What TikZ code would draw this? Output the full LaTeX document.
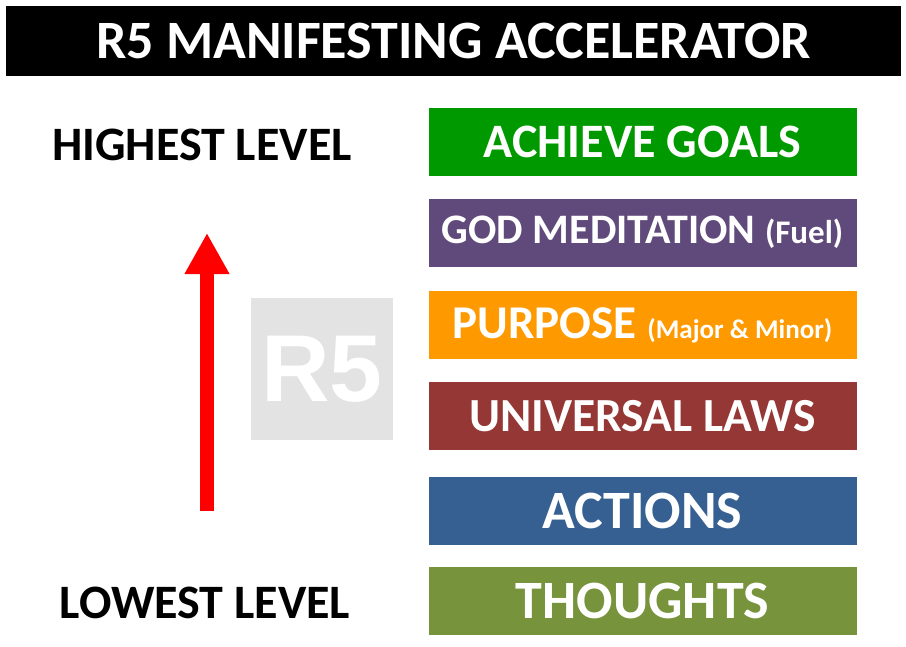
\documentclass[tikz,border=0pt]{standalone}
\usepackage{fontspec}
\setmainfont{Carlito}
\newfontfamily\logofont{Liberation Sans}
\usetikzlibrary{arrows.meta}

\definecolor{goalgreen}{HTML}{009A00}
\definecolor{godpurple}{HTML}{604A7B}
\definecolor{purposeorange}{HTML}{FF9900}
\definecolor{lawred}{HTML}{953735}
\definecolor{actionblue}{HTML}{376092}
\definecolor{thoughtolive}{HTML}{77933C}
\definecolor{logogray}{HTML}{E3E3E3}

\newcommand{\notefont}[1]{\fontsize{#1}{#1}\selectfont}

\begin{document}
\begin{tikzpicture}[x=1pt,y=-1pt]
% Level styles
\tikzset{
    levelbox/.style 2 args={fill=#1, text=white, minimum width=428pt, minimum height=68pt,
        inner sep=0pt, font=\bfseries\fontsize{#2}{#2}\selectfont},
    sidelabel/.style={text=black, inner sep=0pt, font=\bfseries\fontsize{48}{48}\selectfont}
}
\useasboundingbox (0,0) rectangle (906,646);

% Title
\node[fill=black, text=white, minimum width=895pt, minimum height=70pt, inner sep=0pt,
    font=\bfseries\fontsize{54}{54}\selectfont] (Title) at (453.5,41){R5 MANIFESTING ACCELERATOR};

% Level boxes
\node[levelbox={goalgreen}{48}] (Goals) at (642.5,142){ACHIEVE GOALS};
\node[levelbox={godpurple}{42}] (God) at (642.5,232.5){GOD MEDITATION {\notefont{33}(Fuel)}};
\node[levelbox={purposeorange}{47}] (Purpose) at (642.5,325){PURPOSE {\notefont{27}(Major \& Minor)}};
\node[levelbox={lawred}{47.5}] (Laws) at (642.5,416){UNIVERSAL LAWS};
\node[levelbox={actionblue}{54}] (Actions) at (642.5,511){ACTIONS};
\node[levelbox={thoughtolive}{54}] (Thoughts) at (642.5,601){THOUGHTS};

% Side labels
\node[sidelabel] (Highest) at (202,145){HIGHEST LEVEL};
\node[sidelabel] (Lowest) at (205,603){LOWEST LEVEL};

% Logo
\node[fill=logogray, text=white, minimum size=142pt, inner sep=0pt,
    font=\logofont\bfseries\fontsize{95}{95}\selectfont] (Logo) at (322,369){R5};

% Arrow
\coordinate (ArrowTail) at (207,511);
\coordinate (ArrowTip) at (207,233);
\draw[red, line width=14pt, -{Triangle[width=42pt,length=41pt]}] (ArrowTail) -- (ArrowTip);
\end{tikzpicture}
\end{document}
